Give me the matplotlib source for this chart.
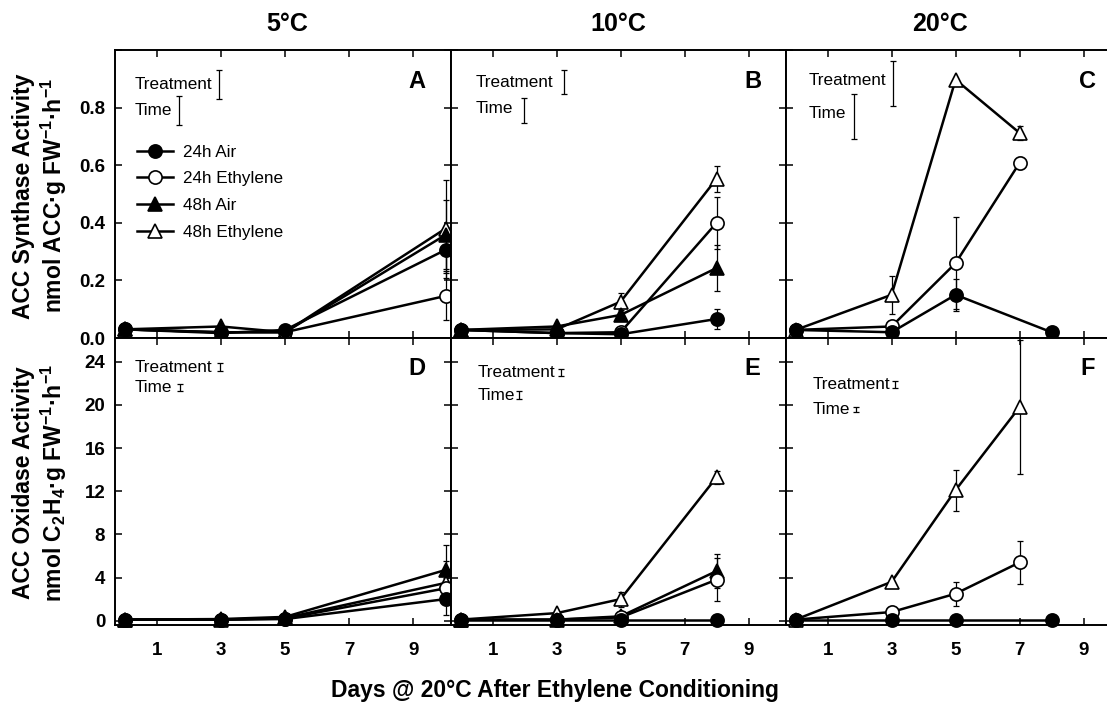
import numpy as np
import matplotlib.pyplot as plt
from matplotlib.lines import Line2D

plt.rcParams['font.family'] = ['Liberation Sans', 'DejaVu Sans']
plt.rcParams['mathtext.fontset'] = 'custom'
plt.rcParams['mathtext.rm'] = 'Liberation Sans:bold'
plt.rcParams['mathtext.bf'] = 'Liberation Sans:bold'
plt.rcParams['mathtext.default'] = 'bf'

# series names and the days sampled in each temperature
series = ['24h Air', '24h Ethylene', '48h Air', '48h Ethylene']
days_5c = [0, 3, 5, 10]
days_10c = [0, 3, 5, 8]
days_20c = [0, 3, 5, 7]
days_20c_air = [0, 3, 5, 8]

# ACC synthase (nmol ACC g-1 h-1)
acs_5c = {'24h Air': [0.03, 0.017, 0.028, 0.306],
          '24h Ethylene': [0.03, 0.02, 0.02, 0.146],
          '48h Air': [0.03, 0.04, 0.02, 0.358],
          '48h Ethylene': [0.03, 0.02, 0.02, 0.38]}
acs_5c_err = {'24h Air': [0, 0, 0, 0.08],
              '24h Ethylene': [0, 0, 0, 0.085],
              '48h Air': [0, 0, 0, 0.12],
              '48h Ethylene': [0, 0, 0, 0.17]}
acs_10c = {'24h Air': [0.028, 0.017, 0.013, 0.066],
           '24h Ethylene': [0.028, 0.017, 0.02, 0.40],
           '48h Air': [0.028, 0.04, 0.08, 0.243],
           '48h Ethylene': [0.028, 0.03, 0.126, 0.553]}
acs_10c_err = {'24h Air': [0, 0, 0, 0.035],
               '24h Ethylene': [0, 0, 0.01, 0.09],
               '48h Air': [0, 0, 0.01, 0.08],
               '48h Ethylene': [0, 0, 0.03, 0.045]}
acs_20c = {'24h Air': [0.028, 0.02, 0.15, 0.02],
           '24h Ethylene': [0.028, 0.04, 0.26, 0.608],
           '48h Ethylene': [0.028, 0.15, 0.897, 0.712]}
acs_20c_err = {'24h Air': [0, 0, 0.055, 0],
               '24h Ethylene': [0, 0.01, 0.16, 0.02],
               '48h Ethylene': [0, 0.065, 0, 0.025]}

# ACC oxidase (nmol C2H4 g-1 h-1)
aco_5c = {'24h Air': [0.1, 0.1, 0.15, 2.0],
          '24h Ethylene': [0.1, 0.1, 0.2, 3.0],
          '48h Air': [0.1, 0.15, 0.35, 4.7],
          '48h Ethylene': [0.1, 0.1, 0.25, 3.5]}
aco_5c_err = {'24h Air': [0, 0, 0, 1.5],
              '24h Ethylene': [0, 0, 0, 1.0],
              '48h Air': [0, 0, 0, 2.3],
              '48h Ethylene': [0, 0, 0, 2.0]}
aco_10c = {'24h Air': [0.1, 0.1, 0.1, 0.1],
           '24h Ethylene': [0.1, 0.1, 0.3, 3.8],
           '48h Air': [0.1, 0.1, 0.4, 4.6],
           '48h Ethylene': [0.1, 0.7, 2.0, 13.3]}
aco_10c_err = {'24h Air': [0, 0, 0, 0],
               '24h Ethylene': [0, 0, 0.2, 2.0],
               '48h Air': [0, 0, 0.2, 1.6],
               '48h Ethylene': [0, 0, 0.7, 0.6]}
aco_20c = {'24h Air': [0.1, 0.1, 0.1, 0.1],
           '24h Ethylene': [0.1, 0.8, 2.5, 5.4],
           '48h Ethylene': [0.1, 3.6, 12.1, 19.8]}
aco_20c_err = {'24h Air': [0, 0, 0, 0],
               '24h Ethylene': [0, 0, 1.1, 2.0],
               '48h Ethylene': [0, 0, 1.9, 6.2]}

marker = {'24h Air': 'o', '24h Ethylene': 'o', '48h Air': '^', '48h Ethylene': '^'}
face = {'24h Air': 'black', '24h Ethylene': 'white', '48h Air': 'black', '48h Ethylene': 'white'}

fig = plt.figure(figsize=(11.07, 7.07), dpi=100)
W, H = 1107, 707


def px_axes(x0, y0, x1, y1):
    return fig.add_axes([x0 / W, 1 - y1 / H, (x1 - x0) / W, (y1 - y0) / H])


def draw(ax, days, vals, errs):
    # draw in reverse so the 24h Air circles end up on top
    for k, name in enumerate(series[::-1]):
        if name not in vals:
            continue
        d = days[name] if isinstance(days, dict) else days
        ax.errorbar(d, vals[name], yerr=errs[name], fmt='none', ecolor='black',
                    elinewidth=0.9, capsize=2.2, capthick=0.9, zorder=2, clip_on=False)
        ax.plot(d, vals[name], color='black', lw=1.8, marker=marker[name], ms=9.5,
                mfc=face[name], mec='black', mew=1.2, zorder=3 + k * 0.1, clip_on=False)


def scale_bars(ax, tx, ty, bx, by, bh, tyy, bxx, byy, bhh, fs):
    ax.text(tx, ty, 'Treatment', fontsize=fs, va='center', ha='left')
    ax.errorbar([bx], [by], yerr=[bh], color='black', elinewidth=0.9, capsize=2, capthick=0.9)
    ax.text(tx, tyy, 'Time', fontsize=fs, va='center', ha='left')
    ax.errorbar([bxx], [byy], yerr=[bhh], color='black', elinewidth=0.9, capsize=2, capthick=0.9)


cols = [(115, 451), (451, 786), (786, 1121)]
top_axes, bot_axes = [], []
for i, (x0, x1) in enumerate(cols):
    top_axes.append(px_axes(x0, 50, x1, 338))
    bot_axes.append(px_axes(x0, 338, x1, 625))

draw(top_axes[0], days_5c, acs_5c, acs_5c_err)
draw(top_axes[1], days_10c, acs_10c, acs_10c_err)
draw(top_axes[2], {'24h Air': days_20c_air, '24h Ethylene': days_20c, '48h Ethylene': days_20c},
     acs_20c, acs_20c_err)
draw(bot_axes[0], days_5c, aco_5c, aco_5c_err)
draw(bot_axes[1], days_10c, aco_10c, aco_10c_err)
draw(bot_axes[2], {'24h Air': days_20c_air, '24h Ethylene': days_20c, '48h Ethylene': days_20c},
     aco_20c, aco_20c_err)

for i, ax in enumerate(top_axes + bot_axes):
    ax.set_xlim(-0.3, 10.17)
    ax.set_xticks([1, 3, 5, 7, 9])
    ax.tick_params(direction='in', top=True, right=True, length=5, width=1.1,
                   labelsize=13.5)
    ax.tick_params(axis='y', pad=7)
    for s in ax.spines.values():
        s.set_linewidth(1.4)

for i, ax in enumerate(top_axes):
    ax.set_ylim(0, 1.0)
    ax.set_yticks([0, 0.2, 0.4, 0.6, 0.8, 1.0])
    ax.set_yticklabels(['0.0', '0.2', '0.4', '0.6', '0.8', ''] if i == 0 else [])
    ax.set_xticklabels([])
    ax.text(0.9, 0.89, 'ABC'[i], transform=ax.transAxes, fontsize=17,
            fontweight='bold', ha='center', va='center')

for i, ax in enumerate(bot_axes):
    ax.set_ylim(-0.4, 26.2)
    ax.set_yticks([0, 4, 8, 12, 16, 20, 24])
    if i > 0:
        ax.set_yticklabels([])
    ax.tick_params(axis='x', pad=12)
    ax.text(0.9, 0.895, 'DEF'[i], transform=ax.transAxes, fontsize=17,
            fontweight='bold', ha='center', va='center')

for ax in top_axes + bot_axes:
    for lab in ax.get_xticklabels() + ax.get_yticklabels():
        lab.set_fontweight('bold')

scale_bars(top_axes[0], 0.3, 0.88, 2.94, 0.88, 0.049, 0.79, 1.69, 0.79, 0.05, 12.3)
scale_bars(top_axes[1], 0.47, 0.887, 3.22, 0.89, 0.042, 0.797, 1.97, 0.79, 0.043, 12.3)
scale_bars(top_axes[2], 0.4, 0.894, 3.03, 0.885, 0.078, 0.78, 1.84, 0.77, 0.078, 12.3)
scale_bars(bot_axes[0], 0.3, 23.5, 2.97, 23.5, 0.35, 21.6, 1.72, 21.6, 0.3, 12.3)
scale_bars(bot_axes[1], 0.53, 23.0, 3.13, 23.0, 0.35, 20.9, 1.81, 20.9, 0.35, 12.3)
scale_bars(bot_axes[2], 0.53, 21.9, 3.1, 21.9, 0.35, 19.6, 1.88, 19.6, 0.25, 12.3)

handles = [Line2D([], [], color='black', lw=1.8, marker=marker[n], ms=9.5,
                  mfc=face[n], mec='black', mew=1.2) for n in series]
top_axes[0].legend(handles, series, loc='upper left', bbox_to_anchor=(0.045, 0.695),
                   frameon=False, fontsize=12.3, handlelength=2.1, labelspacing=0.68,
                   handletextpad=0.6, borderaxespad=0)

for t, xc in zip(['5°C', '10°C', '20°C'], [287, 618, 940]):
    fig.text(xc / W, 1 - 24 / H, t, fontsize=18, fontweight='bold', ha='center', va='center')

fig.text(24 / W, 1 - 196 / H, 'ACC Synthase Activity', rotation=90, fontsize=16.5,
         fontweight='bold', ha='center', va='center')
fig.text(54 / W, 1 - 196 / H, r'nmol ACC·g FW$^{-1}$·h$^{-1}$', rotation=90, fontsize=16.5,
         fontweight='bold', ha='center', va='center')
fig.text(24 / W, 1 - 483 / H, 'ACC Oxidase Activity', rotation=90, fontsize=16.5,
         fontweight='bold', ha='center', va='center')
fig.text(54 / W, 1 - 483 / H, r'nmol C$_2$H$_4$·g FW$^{-1}$·h$^{-1}$', rotation=90, fontsize=16.5,
         fontweight='bold', ha='center', va='center')
fig.text(555 / W, 1 - 690 / H, 'Days @ 20°C After Ethylene Conditioning', fontsize=16.5,
         fontweight='bold', ha='center', va='center')

fig.savefig('out.png', dpi=100)
